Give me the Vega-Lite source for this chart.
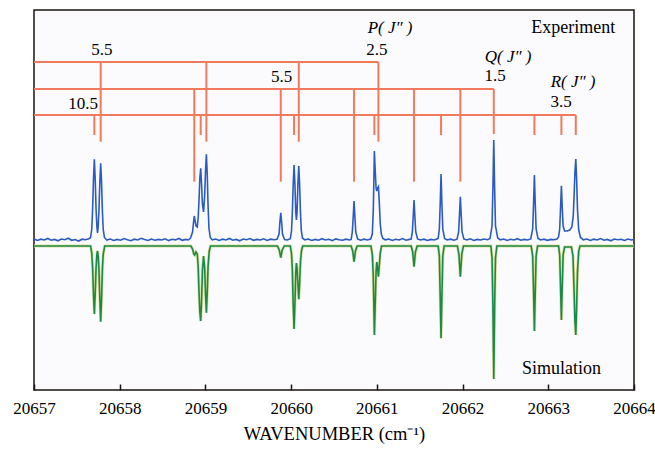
{
  "$schema": "https://vega.github.io/schema/vega-lite/v6.json",
  "width": 600,
  "height": 380,
  "autosize": {"type": "none"},
  "padding": {"left": 34, "top": 10, "right": 21, "bottom": 59},
  "background": "white",
  "config": {
    "view": {"stroke": "#1a1410", "strokeWidth": 1.5, "fill": "#fbfbfd"},
    "font": "Liberation Serif",
    "axis": {"labelFont": "Liberation Serif", "titleFont": "Liberation Serif"}
  },
  "datasets": {
    "exp": [
      {"w": 20657.00, "i": 0.07}, {"w": 20657.04, "i": 0.055}, {"w": 20657.08, "i": 0.068}, {"w": 20657.12, "i": 0.06}, {"w": 20657.16, "i": 0.075}, {"w": 20657.20, "i": 0.058}, {"w": 20657.24, "i": 0.066}, {"w": 20657.28, "i": 0.052}, {"w": 20657.32, "i": 0.07}, {"w": 20657.36, "i": 0.063}, {"w": 20657.40, "i": 0.078}, {"w": 20657.44, "i": 0.057}, {"w": 20657.48, "i": 0.065}, {"w": 20657.52, "i": 0.05}, {"w": 20657.56, "i": 0.068}, {"w": 20657.60, "i": 0.062}, {"w": 20657.64, "i": 0.072},
      {"w": 20657.66, "i": 0.085}, {"w": 20657.674, "i": 0.17}, {"w": 20657.684, "i": 0.37}, {"w": 20657.694, "i": 0.67}, {"w": 20657.704, "i": 0.867}, {"w": 20657.714, "i": 0.67}, {"w": 20657.724, "i": 0.37}, {"w": 20657.734, "i": 0.19}, {"w": 20657.741, "i": 0.13}, {"w": 20657.748, "i": 0.18}, {"w": 20657.758, "i": 0.36}, {"w": 20657.768, "i": 0.64}, {"w": 20657.778, "i": 0.827}, {"w": 20657.788, "i": 0.64}, {"w": 20657.798, "i": 0.35}, {"w": 20657.808, "i": 0.16}, {"w": 20657.822, "i": 0.085},
      {"w": 20657.85, "i": 0.06}, {"w": 20657.89, "i": 0.07}, {"w": 20657.93, "i": 0.055}, {"w": 20657.97, "i": 0.066}, {"w": 20658.01, "i": 0.058}, {"w": 20658.05, "i": 0.074}, {"w": 20658.09, "i": 0.062}, {"w": 20658.13, "i": 0.053}, {"w": 20658.17, "i": 0.068}, {"w": 20658.21, "i": 0.06}, {"w": 20658.25, "i": 0.077}, {"w": 20658.29, "i": 0.064}, {"w": 20658.33, "i": 0.055}, {"w": 20658.37, "i": 0.07}, {"w": 20658.41, "i": 0.058}, {"w": 20658.45, "i": 0.066}, {"w": 20658.49, "i": 0.06}, {"w": 20658.53, "i": 0.072}, {"w": 20658.57, "i": 0.054}, {"w": 20658.61, "i": 0.067}, {"w": 20658.65, "i": 0.061}, {"w": 20658.69, "i": 0.075}, {"w": 20658.73, "i": 0.057}, {"w": 20658.77, "i": 0.066}, {"w": 20658.80, "i": 0.06},
      {"w": 20658.826, "i": 0.08}, {"w": 20658.85, "i": 0.14}, {"w": 20658.86, "i": 0.23}, {"w": 20658.87, "i": 0.30}, {"w": 20658.88, "i": 0.25}, {"w": 20658.89, "i": 0.2}, {"w": 20658.905, "i": 0.19}, {"w": 20658.915, "i": 0.28}, {"w": 20658.925, "i": 0.45}, {"w": 20658.935, "i": 0.68}, {"w": 20658.945, "i": 0.777}, {"w": 20658.955, "i": 0.62}, {"w": 20658.965, "i": 0.42}, {"w": 20658.978, "i": 0.34}, {"w": 20658.991, "i": 0.5}, {"w": 20659.001, "i": 0.75}, {"w": 20659.011, "i": 0.917}, {"w": 20659.021, "i": 0.72}, {"w": 20659.031, "i": 0.40}, {"w": 20659.041, "i": 0.18}, {"w": 20659.056, "i": 0.085},
      {"w": 20659.08, "i": 0.062}, {"w": 20659.12, "i": 0.07}, {"w": 20659.16, "i": 0.055}, {"w": 20659.20, "i": 0.068}, {"w": 20659.24, "i": 0.06}, {"w": 20659.28, "i": 0.075}, {"w": 20659.32, "i": 0.058}, {"w": 20659.36, "i": 0.066}, {"w": 20659.40, "i": 0.052}, {"w": 20659.44, "i": 0.07}, {"w": 20659.48, "i": 0.063}, {"w": 20659.52, "i": 0.074}, {"w": 20659.56, "i": 0.057}, {"w": 20659.60, "i": 0.066}, {"w": 20659.64, "i": 0.06}, {"w": 20659.68, "i": 0.072}, {"w": 20659.72, "i": 0.055}, {"w": 20659.76, "i": 0.068}, {"w": 20659.80, "i": 0.062},
      {"w": 20659.835, "i": 0.068}, {"w": 20659.859, "i": 0.12}, {"w": 20659.869, "i": 0.24}, {"w": 20659.879, "i": 0.333}, {"w": 20659.889, "i": 0.24}, {"w": 20659.899, "i": 0.12}, {"w": 20659.923, "i": 0.065},
      {"w": 20659.955, "i": 0.06},
      {"w": 20659.99, "i": 0.072}, {"w": 20660.004, "i": 0.15}, {"w": 20660.014, "i": 0.33}, {"w": 20660.024, "i": 0.62}, {"w": 20660.034, "i": 0.81}, {"w": 20660.044, "i": 0.62}, {"w": 20660.054, "i": 0.34}, {"w": 20660.0615, "i": 0.26}, {"w": 20660.069, "i": 0.34}, {"w": 20660.079, "i": 0.62}, {"w": 20660.089, "i": 0.80}, {"w": 20660.099, "i": 0.61}, {"w": 20660.109, "i": 0.33}, {"w": 20660.119, "i": 0.15}, {"w": 20660.133, "i": 0.078},
      {"w": 20660.16, "i": 0.062}, {"w": 20660.20, "i": 0.07}, {"w": 20660.24, "i": 0.055}, {"w": 20660.28, "i": 0.066}, {"w": 20660.32, "i": 0.058}, {"w": 20660.36, "i": 0.073}, {"w": 20660.40, "i": 0.06}, {"w": 20660.44, "i": 0.067}, {"w": 20660.48, "i": 0.054}, {"w": 20660.52, "i": 0.071}, {"w": 20660.56, "i": 0.063}, {"w": 20660.60, "i": 0.057}, {"w": 20660.64, "i": 0.068}, {"w": 20660.68, "i": 0.06},
      {"w": 20660.70, "i": 0.066}, {"w": 20660.714, "i": 0.14}, {"w": 20660.724, "i": 0.29}, {"w": 20660.734, "i": 0.45}, {"w": 20660.744, "i": 0.29}, {"w": 20660.754, "i": 0.14}, {"w": 20660.775, "i": 0.07},
      {"w": 20660.81, "i": 0.058}, {"w": 20660.85, "i": 0.068}, {"w": 20660.89, "i": 0.06},
      {"w": 20660.927, "i": 0.07}, {"w": 20660.947, "i": 0.12}, {"w": 20660.958, "i": 0.35}, {"w": 20660.964, "i": 0.6}, {"w": 20660.971, "i": 0.95}, {"w": 20660.981, "i": 0.75}, {"w": 20660.991, "i": 0.58}, {"w": 20660.998, "i": 0.55}, {"w": 20661.008, "i": 0.58}, {"w": 20661.018, "i": 0.593}, {"w": 20661.028, "i": 0.44}, {"w": 20661.04, "i": 0.22}, {"w": 20661.052, "i": 0.12}, {"w": 20661.07, "i": 0.075},
      {"w": 20661.10, "i": 0.062}, {"w": 20661.14, "i": 0.07}, {"w": 20661.18, "i": 0.056}, {"w": 20661.22, "i": 0.067}, {"w": 20661.26, "i": 0.06}, {"w": 20661.30, "i": 0.074}, {"w": 20661.34, "i": 0.058}, {"w": 20661.38, "i": 0.066},
      {"w": 20661.40, "i": 0.07}, {"w": 20661.414, "i": 0.14}, {"w": 20661.424, "i": 0.29}, {"w": 20661.434, "i": 0.46}, {"w": 20661.444, "i": 0.29}, {"w": 20661.454, "i": 0.14}, {"w": 20661.475, "i": 0.07},
      {"w": 20661.51, "i": 0.06}, {"w": 20661.55, "i": 0.068}, {"w": 20661.59, "i": 0.055}, {"w": 20661.63, "i": 0.066}, {"w": 20661.67, "i": 0.06}, {"w": 20661.70, "i": 0.07},
      {"w": 20661.715, "i": 0.075}, {"w": 20661.729, "i": 0.17}, {"w": 20661.739, "i": 0.42}, {"w": 20661.749, "i": 0.72}, {"w": 20661.759, "i": 0.42}, {"w": 20661.769, "i": 0.17}, {"w": 20661.79, "i": 0.075},
      {"w": 20661.82, "i": 0.06}, {"w": 20661.86, "i": 0.068}, {"w": 20661.90, "i": 0.058},
      {"w": 20661.935, "i": 0.068}, {"w": 20661.954, "i": 0.14}, {"w": 20661.964, "i": 0.31}, {"w": 20661.974, "i": 0.493}, {"w": 20661.984, "i": 0.31}, {"w": 20661.994, "i": 0.14}, {"w": 20662.015, "i": 0.07},
      {"w": 20662.05, "i": 0.06}, {"w": 20662.09, "i": 0.072}, {"w": 20662.13, "i": 0.056}, {"w": 20662.17, "i": 0.066}, {"w": 20662.21, "i": 0.06}, {"w": 20662.25, "i": 0.07}, {"w": 20662.29, "i": 0.063},
      {"w": 20662.32, "i": 0.075}, {"w": 20662.344, "i": 0.2}, {"w": 20662.354, "i": 0.58}, {"w": 20662.364, "i": 1.06}, {"w": 20662.374, "i": 0.58}, {"w": 20662.384, "i": 0.2}, {"w": 20662.41, "i": 0.08},
      {"w": 20662.44, "i": 0.062}, {"w": 20662.48, "i": 0.07}, {"w": 20662.52, "i": 0.055}, {"w": 20662.56, "i": 0.067}, {"w": 20662.60, "i": 0.06}, {"w": 20662.64, "i": 0.073}, {"w": 20662.68, "i": 0.058}, {"w": 20662.72, "i": 0.066}, {"w": 20662.76, "i": 0.06},
      {"w": 20662.795, "i": 0.07}, {"w": 20662.818, "i": 0.17}, {"w": 20662.828, "i": 0.42}, {"w": 20662.838, "i": 0.71}, {"w": 20662.848, "i": 0.42}, {"w": 20662.858, "i": 0.17}, {"w": 20662.88, "i": 0.075},
      {"w": 20662.91, "i": 0.06}, {"w": 20662.95, "i": 0.068}, {"w": 20662.99, "i": 0.057}, {"w": 20663.03, "i": 0.066}, {"w": 20663.07, "i": 0.062}, {"w": 20663.10, "i": 0.07},
      {"w": 20663.12, "i": 0.09}, {"w": 20663.133, "i": 0.17}, {"w": 20663.143, "i": 0.38}, {"w": 20663.153, "i": 0.603}, {"w": 20663.163, "i": 0.38}, {"w": 20663.173, "i": 0.2}, {"w": 20663.19, "i": 0.15}, {"w": 20663.22, "i": 0.15}, {"w": 20663.25, "i": 0.16}, {"w": 20663.275, "i": 0.19},
      {"w": 20663.291, "i": 0.3}, {"w": 20663.301, "i": 0.5}, {"w": 20663.311, "i": 0.74}, {"w": 20663.321, "i": 0.87}, {"w": 20663.331, "i": 0.66}, {"w": 20663.341, "i": 0.36}, {"w": 20663.355, "i": 0.16}, {"w": 20663.375, "i": 0.085},
      {"w": 20663.41, "i": 0.062}, {"w": 20663.45, "i": 0.07}, {"w": 20663.49, "i": 0.056}, {"w": 20663.53, "i": 0.068}, {"w": 20663.57, "i": 0.06}, {"w": 20663.61, "i": 0.074}, {"w": 20663.65, "i": 0.058}, {"w": 20663.69, "i": 0.066}, {"w": 20663.73, "i": 0.052}, {"w": 20663.77, "i": 0.07}, {"w": 20663.81, "i": 0.062}, {"w": 20663.85, "i": 0.067}, {"w": 20663.89, "i": 0.055}, {"w": 20663.93, "i": 0.07}, {"w": 20663.97, "i": 0.06}, {"w": 20664.00, "i": 0.065}
    ],
    "sim": [
      {"w": 20657.0, "i": 0},
      {"w": 20657.66, "i": 0}, {"w": 20657.674, "i": -0.07}, {"w": 20657.684, "i": -0.22}, {"w": 20657.694, "i": -0.48}, {"w": 20657.704, "i": -0.68}, {"w": 20657.714, "i": -0.48}, {"w": 20657.724, "i": -0.22}, {"w": 20657.734, "i": -0.08}, {"w": 20657.741, "i": -0.05}, {"w": 20657.748, "i": -0.09}, {"w": 20657.758, "i": -0.24}, {"w": 20657.768, "i": -0.53}, {"w": 20657.778, "i": -0.757}, {"w": 20657.788, "i": -0.53}, {"w": 20657.798, "i": -0.23}, {"w": 20657.808, "i": -0.08}, {"w": 20657.825, "i": 0},
      {"w": 20658.83, "i": 0}, {"w": 20658.85, "i": -0.03}, {"w": 20658.865, "i": -0.08}, {"w": 20658.875, "i": -0.09}, {"w": 20658.89, "i": -0.06}, {"w": 20658.905, "i": -0.08}, {"w": 20658.915, "i": -0.2}, {"w": 20658.925, "i": -0.45}, {"w": 20658.935, "i": -0.66}, {"w": 20658.945, "i": -0.75}, {"w": 20658.955, "i": -0.55}, {"w": 20658.965, "i": -0.25}, {"w": 20658.978, "i": -0.10}, {"w": 20658.991, "i": -0.22}, {"w": 20659.001, "i": -0.47}, {"w": 20659.011, "i": -0.667}, {"w": 20659.021, "i": -0.47}, {"w": 20659.031, "i": -0.2}, {"w": 20659.045, "i": -0.05}, {"w": 20659.06, "i": 0},
      {"w": 20659.84, "i": 0}, {"w": 20659.862, "i": -0.04}, {"w": 20659.879, "i": -0.117}, {"w": 20659.896, "i": -0.04}, {"w": 20659.92, "i": 0},
      {"w": 20659.99, "i": 0}, {"w": 20660.004, "i": -0.07}, {"w": 20660.014, "i": -0.24}, {"w": 20660.024, "i": -0.58}, {"w": 20660.034, "i": -0.83}, {"w": 20660.044, "i": -0.58}, {"w": 20660.054, "i": -0.26}, {"w": 20660.0615, "i": -0.17}, {"w": 20660.069, "i": -0.22}, {"w": 20660.079, "i": -0.38}, {"w": 20660.089, "i": -0.533}, {"w": 20660.099, "i": -0.37}, {"w": 20660.109, "i": -0.16}, {"w": 20660.12, "i": -0.05}, {"w": 20660.135, "i": 0},
      {"w": 20660.70, "i": 0}, {"w": 20660.718, "i": -0.05}, {"w": 20660.734, "i": -0.157}, {"w": 20660.75, "i": -0.05}, {"w": 20660.77, "i": 0},
      {"w": 20660.93, "i": 0}, {"w": 20660.947, "i": -0.08}, {"w": 20660.958, "i": -0.3}, {"w": 20660.964, "i": -0.55}, {"w": 20660.971, "i": -0.89}, {"w": 20660.981, "i": -0.58}, {"w": 20660.991, "i": -0.25}, {"w": 20661.0, "i": -0.16}, {"w": 20661.008, "i": -0.22}, {"w": 20661.018, "i": -0.307}, {"w": 20661.028, "i": -0.2}, {"w": 20661.04, "i": -0.07}, {"w": 20661.055, "i": 0},
      {"w": 20661.40, "i": 0}, {"w": 20661.418, "i": -0.06}, {"w": 20661.434, "i": -0.207}, {"w": 20661.45, "i": -0.06}, {"w": 20661.47, "i": 0},
      {"w": 20661.715, "i": 0}, {"w": 20661.729, "i": -0.1}, {"w": 20661.739, "i": -0.5}, {"w": 20661.749, "i": -0.923}, {"w": 20661.759, "i": -0.5}, {"w": 20661.769, "i": -0.1}, {"w": 20661.785, "i": 0},
      {"w": 20661.94, "i": 0}, {"w": 20661.957, "i": -0.08}, {"w": 20661.974, "i": -0.307}, {"w": 20661.991, "i": -0.08}, {"w": 20662.01, "i": 0},
      {"w": 20662.33, "i": 0}, {"w": 20662.344, "i": -0.12}, {"w": 20662.354, "i": -0.6}, {"w": 20662.364, "i": -1.33}, {"w": 20662.374, "i": -0.6}, {"w": 20662.384, "i": -0.12}, {"w": 20662.40, "i": 0},
      {"w": 20662.80, "i": 0}, {"w": 20662.818, "i": -0.1}, {"w": 20662.828, "i": -0.45}, {"w": 20662.838, "i": -0.85}, {"w": 20662.848, "i": -0.45}, {"w": 20662.858, "i": -0.1}, {"w": 20662.875, "i": 0},
      {"w": 20663.12, "i": 0}, {"w": 20663.133, "i": -0.09}, {"w": 20663.143, "i": -0.4}, {"w": 20663.153, "i": -0.74}, {"w": 20663.163, "i": -0.4}, {"w": 20663.173, "i": -0.09}, {"w": 20663.19, "i": -0.01}, {"w": 20663.27, "i": -0.01},
      {"w": 20663.288, "i": -0.1}, {"w": 20663.301, "i": -0.45}, {"w": 20663.311, "i": -0.75}, {"w": 20663.321, "i": -0.89}, {"w": 20663.331, "i": -0.6}, {"w": 20663.341, "i": -0.25}, {"w": 20663.355, "i": -0.05}, {"w": 20663.37, "i": 0},
      {"w": 20664.0, "i": 0}
    ],
    "assign": [
      {"w": 20657, "w2": 20661.018, "y": 1.84, "y2": 1.84},
      {"w": 20657, "w2": 20662.364, "y": 1.57, "y2": 1.57},
      {"w": 20657, "w2": 20663.321, "y": 1.31, "y2": 1.31},
      {"w": 20657.778, "w2": 20657.778, "y": 1.84, "y2": 1.043},
      {"w": 20659.011, "w2": 20659.011, "y": 1.84, "y2": 1.043},
      {"w": 20660.089, "w2": 20660.089, "y": 1.84, "y2": 1.043},
      {"w": 20661.018, "w2": 20661.018, "y": 1.84, "y2": 1.043},
      {"w": 20658.870, "w2": 20658.870, "y": 1.57, "y2": 0.643},
      {"w": 20659.879, "w2": 20659.879, "y": 1.57, "y2": 0.643},
      {"w": 20660.734, "w2": 20660.734, "y": 1.57, "y2": 0.643},
      {"w": 20661.434, "w2": 20661.434, "y": 1.57, "y2": 0.643},
      {"w": 20661.974, "w2": 20661.974, "y": 1.57, "y2": 0.643},
      {"w": 20662.364, "w2": 20662.364, "y": 1.57, "y2": 1.12},
      {"w": 20657.704, "w2": 20657.704, "y": 1.31, "y2": 1.11},
      {"w": 20658.945, "w2": 20658.945, "y": 1.31, "y2": 1.11},
      {"w": 20660.034, "w2": 20660.034, "y": 1.31, "y2": 1.11},
      {"w": 20660.971, "w2": 20660.971, "y": 1.31, "y2": 1.11},
      {"w": 20661.749, "w2": 20661.749, "y": 1.31, "y2": 1.11},
      {"w": 20662.838, "w2": 20662.838, "y": 1.31, "y2": 1.11},
      {"w": 20663.153, "w2": 20663.153, "y": 1.31, "y2": 1.11},
      {"w": 20663.321, "w2": 20663.321, "y": 1.31, "y2": 1.11}
    ],
    "nums": [
      {"w": 20657.793, "y": 1.96, "t": "5.5"},
      {"w": 20661.0, "y": 1.96, "t": "2.5"},
      {"w": 20659.888, "y": 1.69, "t": "5.5"},
      {"w": 20662.379, "y": 1.70, "t": "1.5"},
      {"w": 20657.572, "y": 1.42, "t": "10.5"},
      {"w": 20663.149, "y": 1.44, "t": "3.5"}
    ],
    "branches": [
      {"w": 20661.154, "y": 2.18, "t": "P( J″ )"},
      {"w": 20662.531, "y": 1.89, "t": "Q( J″ )"},
      {"w": 20663.289, "y": 1.64, "t": "R( J″ )"}
    ],
    "names": [
      {"w": 20663.781, "y": 2.18, "t": "Experiment"},
      {"w": 20663.616, "y": -1.23, "t": "Simulation"}
    ]
  },
  "encoding": {
    "x": {
      "field": "w", "type": "quantitative",
      "scale": {"domain": [20657, 20664], "nice": false, "zero": false},
      "axis": {
        "values": [20657, 20658, 20659, 20660, 20661, 20662, 20663, 20664],
        "format": "d",
        "grid": false,
        "domain": false,
        "tickSize": -6,
        "tickColor": "#1a1410",
        "tickWidth": 1.5,
        "labelFlush": false,
        "labelOverlap": false,
        "labelFont": "Liberation Serif",
        "labelFontSize": 17,
        "labelColor": "black",
        "labelPadding": 16,
        "title": "WAVENUMBER (cm⁻¹)",
        "titleFont": "Liberation Serif",
        "titleFontSize": 18.5,
        "titleFontWeight": "normal",
        "titleColor": "black",
        "titlePadding": 8
      }
    },
    "y": {
      "field": "i", "type": "quantitative",
      "scale": {"domain": [-1.44, 2.36], "nice": false, "zero": false},
      "axis": null
    }
  },
  "layer": [
    {
      "data": {"name": "assign"},
      "mark": {"type": "rule", "color": "#f27a5c", "strokeWidth": 2},
      "encoding": {
        "x2": {"field": "w2"},
        "y": {"field": "y", "type": "quantitative"},
        "y2": {"field": "y2"}
      }
    },
    {
      "data": {"name": "sim"},
      "mark": {"type": "line", "color": "#dfe0a0", "strokeWidth": 3, "interpolate": "linear"}
    },
    {
      "data": {"name": "sim"},
      "mark": {"type": "line", "color": "#1b8a48", "strokeWidth": 1.6, "interpolate": "linear"}
    },
    {
      "data": {"name": "exp"},
      "mark": {"type": "line", "color": "#2b5bc2", "strokeWidth": 1.6, "interpolate": "linear"}
    },
    {
      "data": {"name": "nums"},
      "mark": {"type": "text", "font": "Liberation Serif", "fontSize": 17, "color": "black", "align": "center", "baseline": "middle"},
      "encoding": {"y": {"field": "y", "type": "quantitative"}, "text": {"field": "t"}}
    },
    {
      "data": {"name": "branches"},
      "mark": {"type": "text", "font": "Liberation Serif", "fontSize": 17, "fontStyle": "italic", "color": "black", "align": "center", "baseline": "middle"},
      "encoding": {"y": {"field": "y", "type": "quantitative"}, "text": {"field": "t"}}
    },
    {
      "data": {"name": "names"},
      "mark": {"type": "text", "font": "Liberation Serif", "fontSize": 18, "color": "black", "align": "right", "baseline": "middle"},
      "encoding": {"y": {"field": "y", "type": "quantitative"}, "text": {"field": "t"}}
    }
  ]
}
